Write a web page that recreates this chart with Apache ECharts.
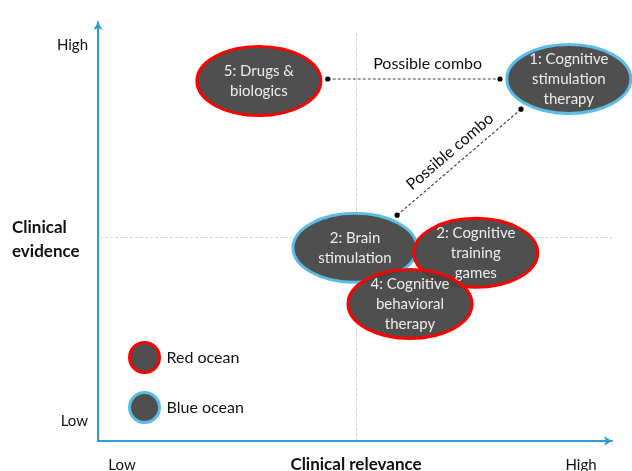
<!DOCTYPE html>
<html><head><meta charset="utf-8">
<script src="https://cdn.jsdelivr.net/npm/echarts@6/dist/echarts.min.js"></script>
<style>html,body{margin:0;padding:0;background:#fff}#c{width:632px;height:471px}</style>
</head><body><div id="c"></div>
<script>
// ---- data ----
const therapies = ['5: Drugs &\nbiologics', '1: Cognitive\nstimulation\ntherapy', '2: Brain\nstimulation', '2: Cognitive\ntraining\ngames', '4: Cognitive\nbehavioral\ntherapy'];
const relevance = [31.3, 91.6, 50.0, 73.5, 60.7];   // x: clinical relevance (0 low .. 100 high)
const evidence  = [85.9, 86.4, 46.1, 44.9, 32.7];   // y: clinical evidence (0 low .. 100 high)
const ocean     = ['Red ocean', 'Blue ocean', 'Blue ocean', 'Red ocean', 'Red ocean'];
const oceanTypes = ['Red ocean', 'Blue ocean'];
const comboFrom = [[44.7, 86.4], [58.2, 53.9]];
const comboTo   = [[78.2, 86.4], [82.3, 79.2]];
const comboLabel = ['Possible combo', 'Possible combo'];
const midRelevance = 50.2;
const midEvidence = 48.7;
const xTickLabels = ['Low', 'High'];
const yTickLabels = ['Low', 'High'];
const xAxisName = 'Clinical relevance';
const yAxisName = 'Clinical\nevidence';

// ---- styles ----
const FONT = 'Lato, "Open Sans", sans-serif';
const strokeOf = { 'Red ocean': '#ff0000', 'Blue ocean': '#5bbce6' };
const FILL = 'rgba(68,68,68,0.94)';
const comboLabelPos = [{ t: 0.58, off: 15 }, { t: 0.5, off: 14 }];

const chart = echarts.init(document.getElementById('c'), null, { renderer: 'canvas' });

function ellipseSeries(type) {
  const idx = [];
  therapies.forEach((t, i) => { if (ocean[i] === type) idx.push(i); });
  return {
    name: type,
    type: 'custom',
    z: 3,
    itemStyle: { color: '#4f4f4f', borderColor: strokeOf[type], borderWidth: 3 },
    data: idx.map(i => [relevance[i], evidence[i], i]),
    renderItem: function (params, api) {
      const i = api.value(2);
      const c = api.coord([api.value(0), api.value(1)]);
      return {
        type: 'group',
        children: [
          { type: 'ellipse', shape: { cx: c[0], cy: c[1], rx: 62, ry: 34.5 },
            style: { fill: FILL, stroke: strokeOf[type], lineWidth: 3 } },
          { type: 'text', x: c[0], y: c[1],
            style: { text: therapies[i], align: 'center', verticalAlign: 'middle',
              fill: '#ececec', font: '15px ' + FONT, lineHeight: 20 } }
        ]
      };
    }
  };
}

const comboSeries = {
  name: 'combo',
  type: 'custom',
  z: 2,
  data: comboFrom.map((f, k) => [f[0], f[1], comboTo[k][0], comboTo[k][1], k]),
  renderItem: function (params, api) {
    const k = api.value(4);
    const a = api.coord([api.value(0), api.value(1)]);
    const b = api.coord([api.value(2), api.value(3)]);
    const dx = b[0] - a[0], dy = b[1] - a[1];
    const len = Math.sqrt(dx * dx + dy * dy);
    const ux = dx / len, uy = dy / len;
    const p = comboLabelPos[k];
    let nx = uy, ny = -ux; if (ny > 0) { nx = -nx; ny = -ny; }
    const lx = a[0] + dx * p.t + nx * p.off, ly = a[1] + dy * p.t + ny * p.off;
    const ang = -Math.atan2(dy, dx);
    return {
      type: 'group',
      children: [
        { type: 'line', shape: { x1: a[0], y1: a[1], x2: b[0], y2: b[1] },
          style: { stroke: '#444', lineWidth: 1.2, lineDash: [3, 2] } },
        { type: 'circle', shape: { cx: a[0], cy: a[1], r: 2.6 }, style: { fill: '#000' } },
        { type: 'circle', shape: { cx: b[0], cy: b[1], r: 2.6 }, style: { fill: '#000' } },
        { type: 'text', x: lx, y: ly, rotation: ang,
          style: { text: comboLabel[k], align: 'center', verticalAlign: 'middle',
            fill: '#111', font: '16px ' + FONT } }
      ]
    };
  }
};

const guideSeries = {
  name: 'guides',
  type: 'line',
  data: [],
  silent: true,
  z: 0,
  markLine: {
    silent: true, symbol: 'none', label: { show: false }, z: 0, zlevel: 0,
    lineStyle: { color: '#d4d4d4', type: [3, 2], width: 1 },
    data: [
      [{ coord: [midRelevance, 0] }, { coord: [midRelevance, 97.6] }],
      [{ coord: [0.4, midEvidence] }, { coord: [100, midEvidence] }]
    ]
  }
};

const axisLine = { show: true, symbol: ['none', 'arrow'], symbolSize: [7, 8],
  lineStyle: { color: '#2e9bd4', width: 2 } };

const txt = (text, x, y, align, bold, extra) => ({
  type: 'text', x: x, y: y, silent: true,
  style: Object.assign({ text: text, align: align, verticalAlign: 'middle',
    fill: '#111', font: (bold ? 'bold 17px ' : '15px ') + FONT, lineHeight: 24 }, extra || {})
});

chart.setOption({
  animation: false,
  backgroundColor: '#fff',
  grid: { left: 98, right: 20, top: 22, bottom: 30 },
  xAxis: { type: 'value', min: 0, max: 100, axisLine: axisLine,
    axisTick: { show: false }, axisLabel: { show: false }, splitLine: { show: false } },
  yAxis: { type: 'value', min: 0, max: 100, axisLine: axisLine,
    axisTick: { show: false }, axisLabel: { show: false }, splitLine: { show: false } },
  legend: {
    orient: 'vertical', left: 128, top: 341, padding: 0, itemWidth: 30, itemHeight: 32, itemGap: 17,
    textStyle: { fontFamily: FONT, fontSize: 16, color: '#111', padding: [0, 0, 0, 2] },
    data: oceanTypes.map(t => ({ name: t, icon: 'circle',
      itemStyle: { color: '#4f4f4f', borderColor: strokeOf[t], borderWidth: 3 } }))
  },
  graphic: [
    txt(yTickLabels[1], 88, 45, 'right'),
    txt(yTickLabels[0], 88, 421, 'right'),
    txt(yAxisName, 12, 240, 'left', true),
    txt(xTickLabels[0], 122, 465, 'center'),
    txt(xAxisName, 356, 465, 'center', true),
    txt(xTickLabels[1], 581, 465, 'center')
  ],
  series: [guideSeries, comboSeries, ellipseSeries('Blue ocean'), ellipseSeries('Red ocean')]
});
</script></body></html>
